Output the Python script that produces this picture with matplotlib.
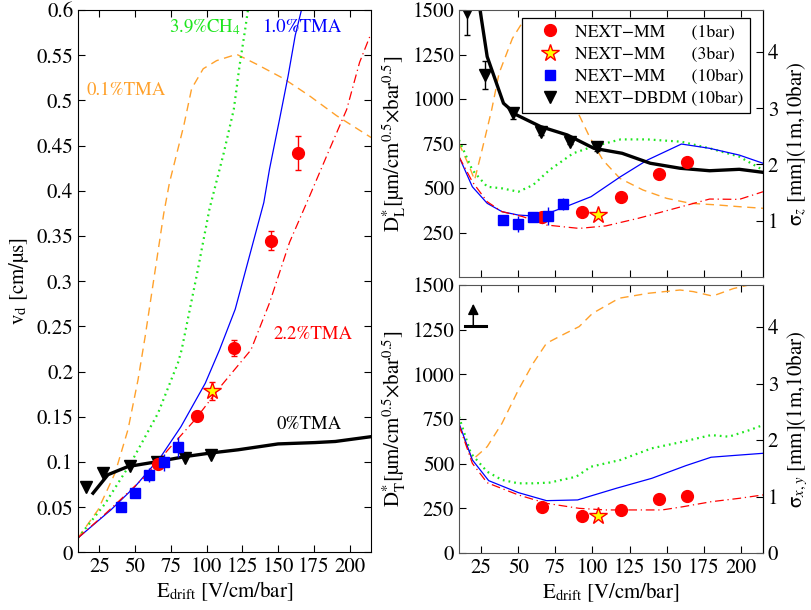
import numpy as np
import matplotlib
matplotlib.use("Agg")
import matplotlib.pyplot as plt
from matplotlib.ticker import FuncFormatter
from matplotlib.textpath import TextPath
from matplotlib.font_manager import FontProperties
from matplotlib.lines import Line2D

plt.rcParams['font.family'] = ['STIXGeneral', 'DejaVu Serif']
plt.rcParams['mathtext.fontset'] = 'stix'

# ---------------- data: drift velocity (left panel) ----------------
e_mm1 = [66, 93, 119, 145, 164]
vd_mm1 = [0.098, 0.151, 0.226, 0.345, 0.442]
vd_mm1_err = [0.004, 0.005, 0.009, 0.011, 0.019]
e_mm3 = [103.5]
vd_mm3 = [0.179]
vd_mm3_err = [0.010]
e_mm10 = [40, 50, 60, 70, 80]
vd_mm10 = [0.050, 0.0655, 0.0858, 0.0995, 0.1165]
vd_mm10_err = [0.003, 0.005, 0.0074, 0.0098, 0.0107]
e_dbdm = [15.5, 27.5, 46.5, 65.5, 84.8, 103]
vd_dbdm = [0.0728, 0.0883, 0.0958, 0.0998, 0.1042, 0.108]

e_v00 = [20.5, 31, 45, 66, 85, 103, 122, 150, 176, 190, 215]
v00 = [0.0655, 0.086, 0.095, 0.1005, 0.106, 0.110, 0.1135, 0.120, 0.1215, 0.1227, 0.128]
e_v10 = [10, 33, 50, 68, 82, 99, 109, 120, 130, 140, 144, 151, 157, 162, 166.5]
v10 = [0.016, 0.047, 0.073, 0.106, 0.139, 0.187, 0.224, 0.269, 0.328, 0.387, 0.424, 0.479, 0.527, 0.572, 0.601]
e_vch4 = [10, 29, 47, 66, 80, 82.5, 93, 102, 112, 119, 123, 127, 129]
vch4 = [0.016, 0.054, 0.099, 0.154, 0.210, 0.224, 0.306, 0.380, 0.442, 0.490, 0.538, 0.579, 0.601]
e_v01 = [10, 24, 36, 45, 52, 57, 70, 74, 84, 89.5, 97.6, 107, 121, 135, 154, 172, 191, 215]
v01 = [0.016, 0.047, 0.088, 0.136, 0.191, 0.239, 0.375, 0.409, 0.472, 0.513, 0.535, 0.544, 0.551, 0.540, 0.524, 0.505, 0.483, 0.459]
e_v22 = [10, 30, 57, 73, 92, 110, 131, 144, 158, 172, 186, 198, 207, 214.5]
v22 = [0.016, 0.044, 0.084, 0.1135, 0.147, 0.184, 0.224, 0.276, 0.343, 0.394, 0.446, 0.490, 0.542, 0.572]

# ---------------- data: longitudinal diffusion (top right) ----------------
DL_mm1 = [335, 365, 451, 577, 644]
DL_mm1_err = [10, 10, 10, 10, 10]
DL_mm3 = [348]
DL_mm10 = [320, 296, 339, 343, 410]
DL_mm10_err = [20, 45, 15, 50, 35]
DL_dbdm = [1490, 1135, 920, 816, 760, 732]
DL_dbdm_err = [130, 80, 30, 20, 15, 25]

e_DL00 = [24.2, 29, 40, 49, 65, 83, 101, 120, 139, 159, 179, 199, 215]
DL00 = [1500, 1238, 976, 910, 845, 798, 723, 695, 639, 611, 597, 605, 588]
e_DL10 = [10, 19, 29, 39, 50, 60, 71, 82, 99, 119, 137, 160, 179, 199, 215]
DL10 = [676, 507, 414, 367, 348, 343, 361, 395, 451, 564, 657, 747, 723, 685, 639]
e_DLch4 = [10, 19, 29, 39, 50, 60, 71, 87, 100, 119, 137, 160, 179, 199, 215]
DLch4 = [770, 601, 507, 498, 479, 517, 601, 695, 732, 773, 773, 760, 723, 676, 601]
e_DL01 = [10, 17, 20.5, 25, 32, 37, 46, 52, 58, 64, 75, 91.5, 98, 107, 118.5, 134, 150, 166, 184, 199, 215]
DL01 = [751, 620, 545, 695, 938, 1144, 1340, 1420, 1440, 1380, 1175, 901, 788, 657, 554, 489, 442, 414, 405, 395, 386]
e_DL22 = [10, 19, 29, 39, 53, 69, 91, 109, 131, 156, 179, 199, 215]
DL22 = [676, 535, 423, 367, 339, 292, 273, 287, 330, 386, 438, 436, 479]

# ---------------- data: transverse diffusion (bottom right) ----------------
DT_mm1 = [256, 207, 241, 300, 319]
DT_mm3 = [207]

e_DT01 = [10, 19, 29, 39, 50, 60, 69, 82, 91, 100, 118, 138, 159, 168, 181, 195, 208, 215]
DT01 = [716, 521, 595, 726, 912, 1062, 1174, 1230, 1267, 1341, 1426, 1454, 1472, 1463, 1438, 1480, 1505, 1520]
e_DTch4 = [10, 18, 29, 39, 50, 60, 71, 89, 99, 119, 140, 161, 180, 192, 206, 215]
DTch4 = [763, 558, 455, 409, 390, 390, 394, 427, 483, 521, 586, 623, 660, 651, 688, 716]
e_DT10 = [10, 19, 30, 50, 69, 90, 116, 140, 163, 180, 194, 215]
DT10 = [726, 521, 405, 338, 293, 297, 362, 418, 489, 536, 545, 558]
e_DT22 = [10, 19, 29, 50, 69, 91, 109, 127, 147, 161, 180, 199, 215]
DT22 = [716, 502, 393, 325, 278, 250, 241, 241, 241, 259, 287, 306, 325]

xticks = [25, 50, 75, 100, 125, 150, 175, 200]
vd_ticks = [0, 0.05, 0.1, 0.15, 0.2, 0.25, 0.3, 0.35, 0.4, 0.45, 0.5, 0.55, 0.6]
D_ticks_top = [250, 500, 750, 1000, 1250, 1500]
D_ticks_bot = [0, 250, 500, 750, 1000, 1250, 1500]
sig_ticks_top = [1, 2, 3, 4]
sig_ticks_bot = [0, 1, 2, 3, 4]
legend_names = ["NEXT\u2212MM", "NEXT\u2212MM", "NEXT\u2212MM", "NEXT\u2212DBDM"]
legend_press = ["(1bar)", "(3bar)", "(10bar)", "(10bar)"]

# ---------------- styles ----------------
C_OR = '#FFA12B'
C_GR = '#1EE61E'
C_BL = '#0000FF'
C_RD = '#FF0000'
FS = 15
TFS = 13.5
LFS = 12.7
ls_or = dict(color=C_OR, lw=1.0, ls=(0, (6, 4)))
ls_gr = dict(color=C_GR, lw=1.6, ls=(0, (0.8, 1.8)))
ls_bl = dict(color=C_BL, lw=0.9, ls='-')
ls_rd = dict(color=C_RD, lw=0.9, ls=(0, (7, 3, 1, 3)))
ls_bk = dict(color='k', lw=2.4, ls='-')

mk_c = dict(fmt='o', color=C_RD, ms=8.5, mec=C_RD, mfc=C_RD, elinewidth=1.0, capsize=2)
mk_s = dict(fmt='*', color=C_RD, ms=13, mec=C_RD, mfc='#FFFF00', mew=1.0, elinewidth=1.0, capsize=2)
mk_q = dict(fmt='s', color=C_BL, ms=7, mec=C_BL, mfc=C_BL, elinewidth=1.0, capsize=0)
mk_t = dict(fmt='v', color='k', ms=9, mec='k', mfc='k', elinewidth=1.0, capsize=2)

W, H = 811, 610
fig = plt.figure(figsize=(W / 100, H / 100), dpi=100)

def frac(x0, y0, x1, y1):
    return [x0 / W, 1 - y1 / H, (x1 - x0) / W, (y1 - y0) / H]

axL = fig.add_axes(frac(78, 10, 371, 552.4))
axT = fig.add_axes(frac(459, 10, 763, 277))
axB = fig.add_axes(frac(459, 285, 763, 553))

fmt_g = FuncFormatter(lambda v, p: '%g' % v)

# ---------------- left panel ----------------
axL.plot(e_v01, v01, **ls_or)
axL.plot(e_vch4, vch4, **ls_gr)
axL.plot(e_v10, v10, **ls_bl)
axL.plot(e_v22, v22, **ls_rd)
axL.plot(e_v00, v00, **ls_bk)
axL.errorbar(e_dbdm, vd_dbdm, **mk_t)
axL.errorbar(e_mm1, vd_mm1, yerr=vd_mm1_err, **mk_c)
axL.errorbar(e_mm10, vd_mm10, yerr=vd_mm10_err, **mk_q)
axL.errorbar(e_mm3, vd_mm3, yerr=vd_mm3_err, **mk_s)
axL.set_xlim(10, 215)
axL.set_ylim(0, 0.6)
axL.set_xticks(xticks)
axL.set_yticks(vd_ticks)
axL.yaxis.set_major_formatter(fmt_g)
axL.tick_params(direction='in', top=True, right=True, labelsize=FS, length=5, width=0.8)
axL.set_xlabel(r'E$_{\rm drift}$ [V/cm/bar]', fontsize=FS, labelpad=2)
axL.set_ylabel(r'v$_{\rm d}$ [cm/µs]', fontsize=FS, labelpad=4)
axL.text(73.8, 0.581, r'3.9%CH$_4$', color=C_GR, fontsize=TFS, ha='left', va='center')
axL.text(139.6, 0.581, '1.0%TMA', color=C_BL, fontsize=TFS, ha='left', va='center')
axL.text(15.6, 0.5106, '0.1%TMA', color=C_OR, fontsize=TFS, ha='left', va='center')
axL.text(146.6, 0.241, '2.2%TMA', color=C_RD, fontsize=TFS, ha='left', va='center')
axL.text(149, 0.142, '0%TMA', color='k', fontsize=TFS, ha='left', va='center')

# conversion D [um/sqrt(cm) sqrt(bar)] -> sigma [mm] for 1 m at 10 bar
conv = np.sqrt(100.0) / np.sqrt(10.0) / 1000.0

# ---------------- top right ----------------
axT.plot(e_DL01, DL01, **ls_or)
axT.plot(e_DLch4, DLch4, **ls_gr)
axT.plot(e_DL10, DL10, **ls_bl)
axT.plot(e_DL22, DL22, **ls_rd)
axT.plot(e_DL00, DL00, **ls_bk)
axT.errorbar(e_dbdm, DL_dbdm, yerr=DL_dbdm_err, **mk_t)
axT.errorbar(e_mm1, DL_mm1, yerr=DL_mm1_err, **mk_c)
axT.errorbar(e_mm10, DL_mm10, yerr=DL_mm10_err, **mk_q)
axT.errorbar(e_mm3, DL_mm3, **mk_s)
axT.set_xlim(10, 215)
axT.set_ylim(0, 1500)
axT.set_xticks(xticks)
axT.set_yticks(D_ticks_top)
axT.tick_params(direction='in', top=True, right=False, labelsize=FS, length=5, width=0.8,
                labelbottom=False)
axT.set_ylabel(r'D$^{*}_{\rm L}$[µm/cm$^{0.5}$×bar$^{0.5}$]', fontsize=FS, labelpad=3)
axT2 = axT.twinx()
axT2.set_ylim(0, 1500 * conv)
axT2.set_yticks(sig_ticks_top)
axT2.tick_params(direction='in', labelsize=FS, length=5, width=0.8)
axT2.set_ylabel(r'σ$_{z}$ [mm](1m,10bar)', fontsize=FS, labelpad=4)

# legend (marker-only handles) with aligned pressure column
def proxy(kw):
    return Line2D([], [], ls='none', marker=kw['fmt'], ms=kw['ms'], mec=kw['mec'],
                  mfc=kw['mfc'], mew=kw.get('mew', 1.0))
handles = [proxy(mk_c), proxy(mk_s), proxy(mk_q), proxy(mk_t)]
fp = FontProperties(family='STIXGeneral', size=LFS)
def tw(s):
    return TextPath((0, 0), s + '(', prop=fp).get_extents().width
ref_w = tw(legend_names[3] + ' ')
labels = []
for nm, pr in zip(legend_names, legend_press):
    best = min(range(1, 15), key=lambda n: abs(tw(nm + ' ' * n) - ref_w))
    labels.append(nm + ' ' * best + pr)
leg = axT.legend(handles, labels, loc='upper left',
                 bbox_to_anchor=((522 - 459) / 304, (277 - 18) / 267),
                 borderaxespad=0, fontsize=LFS, frameon=True, fancybox=False, framealpha=1,
                 edgecolor='k', handlelength=2.45, handletextpad=0.2, labelspacing=0.33,
                 borderpad=0.35)
leg.get_frame().set_linewidth(0.9)
leg.set_zorder(10)
axT.set_zorder(axT2.get_zorder() + 1)
axT.patch.set_visible(False)

# ---------------- bottom right ----------------
axB.plot(e_DT01, DT01, **ls_or)
axB.plot(e_DTch4, DTch4, **ls_gr)
axB.plot(e_DT10, DT10, **ls_bl)
axB.plot(e_DT22, DT22, **ls_rd)
axB.errorbar(e_mm1, DT_mm1, **mk_c)
axB.errorbar(e_mm3, DT_mm3, **mk_s)
axB.set_xlim(10, 215)
axB.set_ylim(0, 1500)
axB.set_xticks(xticks)
axB.set_yticks(D_ticks_bot)
axB.tick_params(direction='in', top=True, right=False, labelsize=FS, length=5, width=0.8)
axB.set_xlabel(r'E$_{\rm drift}$ [V/cm/bar]', fontsize=FS, labelpad=2)
axB.set_ylabel(r'D$^{*}_{\rm T}$[µm/cm$^{0.5}$×bar$^{0.5}$]', fontsize=FS, labelpad=3)
axB2 = axB.twinx()
axB2.set_ylim(0, 1500 * conv)
axB2.set_yticks(sig_ticks_bot)
axB2.tick_params(direction='in', labelsize=FS, length=5, width=0.8)
axB2.set_ylabel(r'σ$_{x,y}$ [mm](1m,10bar)', fontsize=FS, labelpad=4)
axB.set_zorder(axB2.get_zorder() + 1)
axB.patch.set_visible(False)
axB.annotate('', xy=(0.047, 0.93), xytext=(0.047, 0.848), xycoords='axes fraction',
             arrowprops=dict(arrowstyle='-|>', color='k', lw=1.1, mutation_scale=16,
                             shrinkA=0, shrinkB=0))
axB.plot([0.02, 0.089], [0.847, 0.847], transform=axB.transAxes, color='k', lw=2.2, clip_on=False)

for ax in (axT, axB):
    for s in ('left', 'bottom', 'top'):
        ax.spines[s].set_color('#555555')
for ax in (axT2, axB2):
    for s in ('left', 'bottom', 'top'):
        ax.spines[s].set_visible(False)
    ax.spines['right'].set_color('k')

fig.savefig('out.png', dpi=100)
